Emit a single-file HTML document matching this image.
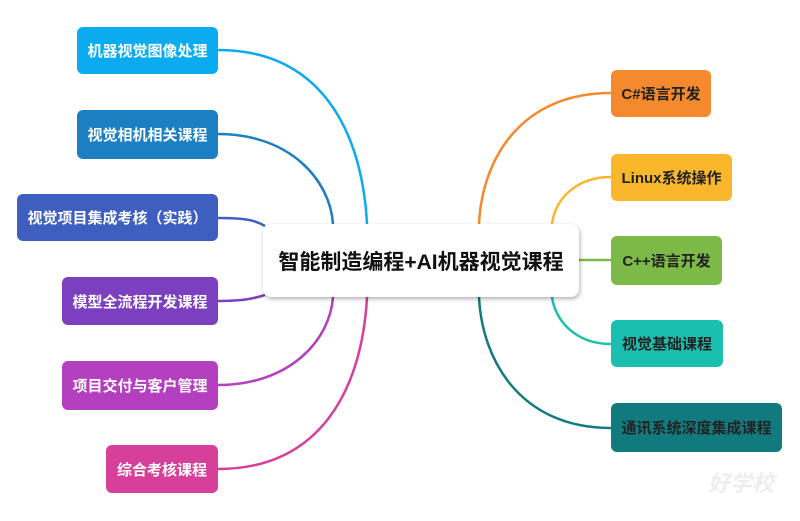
<!DOCTYPE html>
<html><head><meta charset="utf-8"><style>
body{margin:0;width:800px;height:521px;background:#fff;position:relative;overflow:hidden;font-family:"Liberation Sans","Noto Sans CJK SC",sans-serif;font-weight:bold}
.b{position:absolute;border-radius:6px;display:flex;align-items:center;justify-content:center;font-size:15px;color:#fff;box-sizing:border-box}
.r{color:#222}
svg{position:absolute;left:0;top:0}
</style></head><body>
<svg width="800" height="521" fill="none" stroke-width="2.5">
<path d="M218 50 C320 50 362 130 367 224" stroke="#0babf0"/>
<path d="M218 134 C290 134 330 180 333 224" stroke="#1b7fc1"/>
<path d="M218 218 C245 218 255 220 265 226" stroke="#3e5fc0"/>
<path d="M218 301 C245 301 255 298 265 295" stroke="#7b3fc0"/>
<path d="M218 385 C290 385 330 340 333 297" stroke="#b43fbf"/>
<path d="M218 469 C320 469 362 390 367 297" stroke="#d63f9a"/>
<path d="M611 93 C520 93 482 160 479 224" stroke="#f5892d"/>
<path d="M611 177 C575 177 555 200 552 224" stroke="#fbb72b"/>
<path d="M579 260 L611 260" stroke="#7cb947"/>
<path d="M611 344 C575 344 555 320 552 297" stroke="#1bbfb0"/>
<path d="M611 428 C520 428 482 360 479 297" stroke="#117a7f"/>
</svg>
<div class="b" style="left:77px;top:27px;width:141px;height:47px;background:#0babf0">机器视觉图像处理</div>
<div class="b" style="left:77px;top:110px;width:141px;height:49px;background:#1b7fc1">视觉相机相关课程</div>
<div class="b" style="left:17px;top:194px;width:201px;height:47px;background:#3e5fc0">视觉项目集成考核（实践）</div>
<div class="b" style="left:62px;top:277px;width:156px;height:48px;background:#7b3fc0">模型全流程开发课程</div>
<div class="b" style="left:62px;top:361px;width:156px;height:49px;background:#b43fbf">项目交付与客户管理</div>
<div class="b" style="left:106px;top:445px;width:112px;height:48px;background:#d63f9a">综合考核课程</div>
<div class="b" style="left:263px;top:224px;width:316px;height:73px;background:#fff;color:#111;font-size:21px;border-radius:8px;box-shadow:1px 2px 4px rgba(0,0,0,.3)">智能制造编程+AI机器视觉课程</div>
<div class="b r" style="left:611px;top:70px;width:100px;height:47px;background:#f5892d">C#语言开发</div>
<div class="b r" style="left:611px;top:154px;width:121px;height:47px;background:#fbb72b">Linux系统操作</div>
<div class="b r" style="left:611px;top:236px;width:111px;height:49px;background:#7cb947">C++语言开发</div>
<div class="b r" style="left:611px;top:320px;width:112px;height:47px;background:#1bbfb0">视觉基础课程</div>
<div class="b r" style="left:611px;top:403px;width:171px;height:49px;background:#117a7f">通讯系统深度集成课程</div>
<div style="position:absolute;left:708px;top:466px;color:#eeeeee;font-size:22px;font-style:italic">好学校</div>
</body></html>
